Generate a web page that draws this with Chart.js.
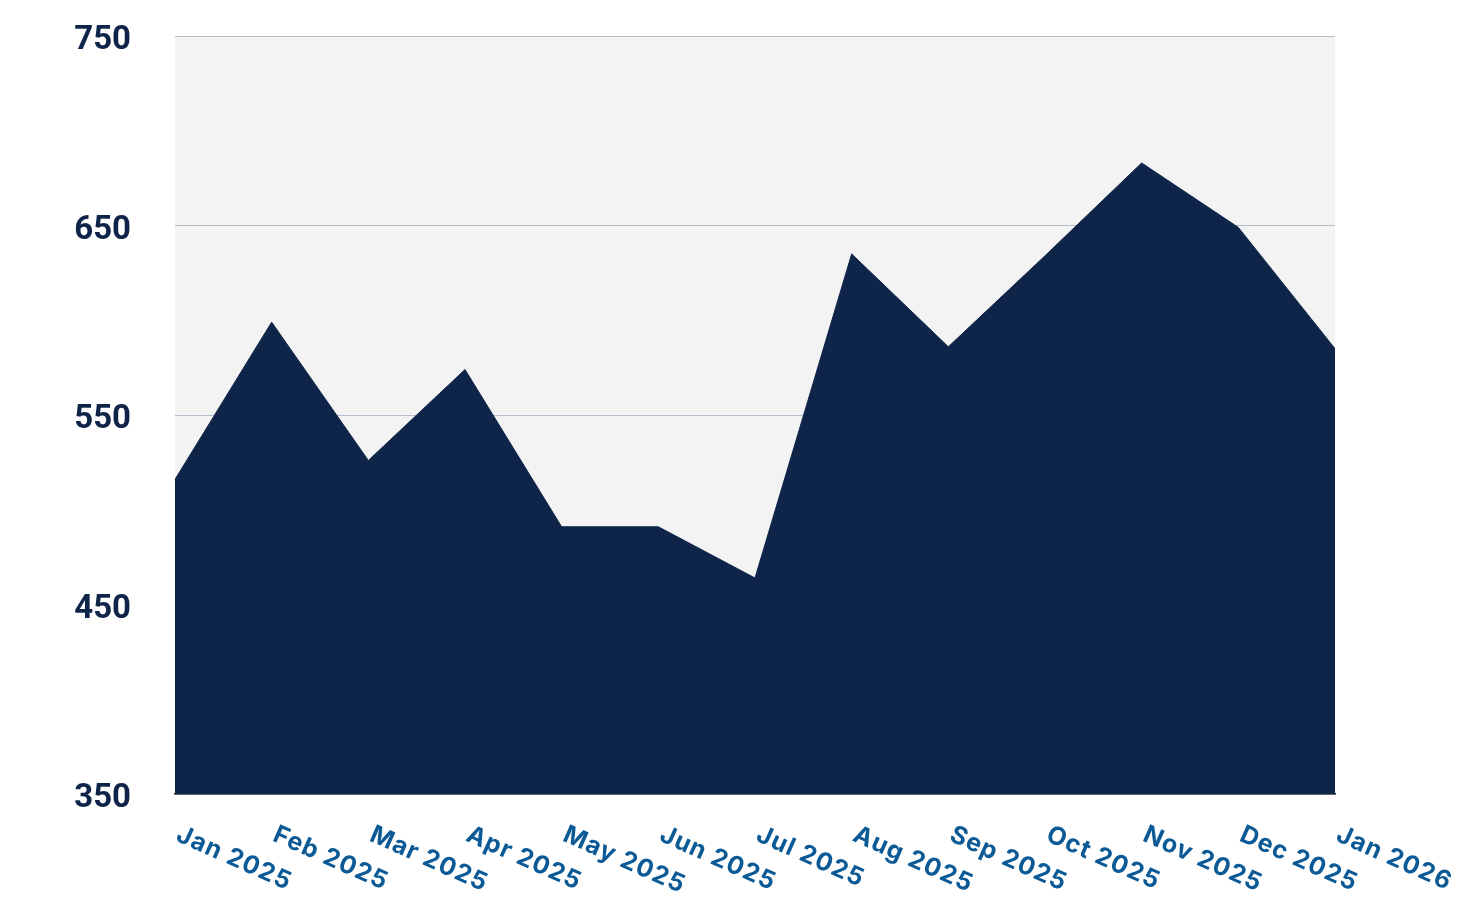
<!DOCTYPE html>
<html>
<head>
<meta charset="utf-8">
<script src="https://cdn.jsdelivr.net/npm/chart.js@4/dist/chart.umd.min.js"></script>
<style>
  html, body { margin: 0; padding: 0; background: #ffffff; }
  #wrap { width: 1466px; height: 914px; position: relative; }
</style>
</head>
<body>
<div id="wrap"><canvas id="c" width="1466" height="914"></canvas></div>
<script>
const categories = ["Jan 2025", "Feb 2025", "Mar 2025", "Apr 2025", "May 2025", "Jun 2025", "Jul 2025", "Aug 2025", "Sep 2025", "Oct 2025", "Nov 2025", "Dec 2025", "Jan 2026"];
const seriesValues = [516, 599, 526, 574, 491, 491, 464, 635, 586, 634, 683, 649, 585];
const yTickValues = [350, 450, 550, 650, 750];

const plotBg = {
  id: 'plotBg',
  beforeDraw(chart) {
    const { ctx, chartArea: a } = chart;
    ctx.save();
    ctx.fillStyle = '#f3f3f3';
    ctx.fillRect(a.left, a.top, a.right - a.left, a.bottom - a.top);
    ctx.restore();
  }
};

const rotatedXLabels = {
  id: 'rotatedXLabels',
  afterDraw(chart) {
    const { ctx } = chart;
    const xs = chart.scales.x;
    ctx.save();
    ctx.fillStyle = '#0b5a96';
    ctx.font = 'bold 25px Inter, "Open Sans", sans-serif';
    try { ctx.letterSpacing = '1px'; } catch (e) {}
    ctx.textAlign = 'left';
    ctx.textBaseline = 'top';
    const angle = 24 * Math.PI / 180;
    categories.forEach((lab, i) => {
      const x = xs.getPixelForTick(i);
      ctx.save();
      ctx.translate(x + 8, xs.top + 28);
      ctx.rotate(angle);
      ctx.fillText(lab, 0, 0);
      ctx.restore();
    });
    ctx.restore();
  }
};

new Chart(document.getElementById('c'), {
  type: 'line',
  data: {
    labels: categories,
    datasets: [{
      data: seriesValues,
      fill: 'start',
      backgroundColor: '#0e2449',
      borderColor: '#0e2449',
      borderWidth: 1,
      pointRadius: 0,
      tension: 0
    }]
  },
  options: {
    responsive: false,
    animation: false,
    layout: { padding: { top: 36, right: 131, bottom: 0, left: 0 } },
    plugins: { legend: { display: false }, tooltip: { enabled: false } },
    scales: {
      x: {
        offset: false,
        grid: { display: false, drawTicks: false },
        border: { display: true, color: '#111111', width: 1.5 },
        ticks: { display: false },
        afterFit(s) { s.height = 120; }
      },
      y: {
        min: 350,
        max: 750,
        afterBuildTicks(s) { s.ticks = yTickValues.map(v => ({ value: v })); },
        grid: { color: '#b7becb', lineWidth: 1, drawTicks: true, tickLength: 44, tickColor: 'rgba(0,0,0,0)' },
        border: { display: false },
        ticks: {
          padding: 0,
          labelOffset: 5,
          color: '#0f2449',
          font: { family: 'Roboto', size: 33, weight: 'bold' }
        },
        afterFit(s) { s.width = 175; }
      }
    }
  },
  plugins: [plotBg, rotatedXLabels]
});
</script>
</body>
</html>
